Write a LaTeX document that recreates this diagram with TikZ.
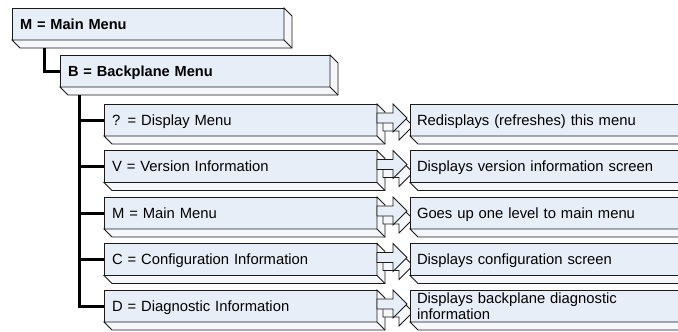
\documentclass[tikz,border=0pt]{standalone}
\usepackage{fontspec}
\setmainfont{Liberation Sans}
\usetikzlibrary{calc}
\definecolor{frontc}{HTML}{E8EEF7}
\definecolor{sidec}{HTML}{F5F7FB}
\definecolor{edgec}{HTML}{1A1A1A}
\tikzset{
  box/.style={draw=edgec, line width=0.8pt, fill=frontc, rectangle, anchor=north west,
    minimum height=32pt, inner xsep=8pt, inner ysep=0pt, outer sep=0pt, align=left,
    font=\fontsize{14.8}{15.5}\selectfont},
  oneline/.style={text height=12pt, text depth=1.6pt},
  boldbox/.style={box, oneline, font=\fontsize{14.6}{15.5}\selectfont\bfseries},
  sideface/.style={draw=edgec, line width=0.8pt, fill=sidec, line join=miter},
  conn/.style={draw=black, line width=3pt},
}
\newcommand\extrude[1]{%
  \draw[sideface] (#1.south west) -- ++(8,8) -- ($(#1.south east)+(8,8)$) -- ($(#1.north east)+(8,8)$)
     -- (#1.north east) -- (#1.south east) -- cycle;
  \draw[edgec, line width=0.8pt] (#1.south east) -- ++(8,8);}
\newcommand\blockarrow[1]{%
  \coordinate (#1t) at ($(#1.east)+(0,-2)$);
  \draw[sideface] ($(#1t)+(6,8)$) ++(0,-5) -- ++(16,0) -- ++(0,-9) -- ++(14,14) -- ++(-14,14)
     -- ++(0,-9) -- ++(-16,0) -- cycle;
  \draw[sideface, fill=frontc] (#1t) ++(0,-5) -- ++(16,0) -- ++(0,-9) -- ++(14,14) -- ++(-14,14)
     -- ++(0,-9) -- ++(-16,0) -- cycle;}
\begin{document}
\begin{tikzpicture}[x=1pt, y=-1pt]
\useasboundingbox (0,0) rectangle (678,332);
\clip (0,0) rectangle (678,332);
\fill[white] (0,0) rectangle (678,332);

% main and backplane
\node[boldbox, text width=256pt] (m) at (12,8) {M = Main Menu};
\extrude{m}
\node[boldbox, text width=254pt] (b) at (60,55) {B = Backplane Menu};
\extrude{b}
\draw[conn] ($(m.south west)+(32,8)$) |- (b.west);

% children
\foreach \i/\t in {1/{? = Display Menu},2/{V = Version Information},3/{M = Main Menu},
                   4/{C = Configuration Information},5/{D = Diagnostic Information}}{
  \node[box, oneline, text width=257pt] (c\i) at (104,{104+46.5*(\i-1)}) {\t};
  \extrude{c\i}
  \draw[conn] ($(b.south west)+(19,8)$) |- (c\i.west);
  \blockarrow{c\i}
}

% descriptions
\foreach \i/\t in {1/{Redisplays (refreshes) this menu},2/{Displays version information screen},
                   3/{Goes up one level to main menu},4/{Displays configuration screen}}{
  \node[box, oneline, text width=276pt, inner xsep=7pt] (d\i) at (410,{104+46.5*(\i-1)}) {\t};
  \extrude{d\i}
}
\node[box, text width=276pt, inner xsep=7pt] (d5) at (410,290) {Displays backplane diagnostic\\information};
\extrude{d5}
\end{tikzpicture}
\end{document}
